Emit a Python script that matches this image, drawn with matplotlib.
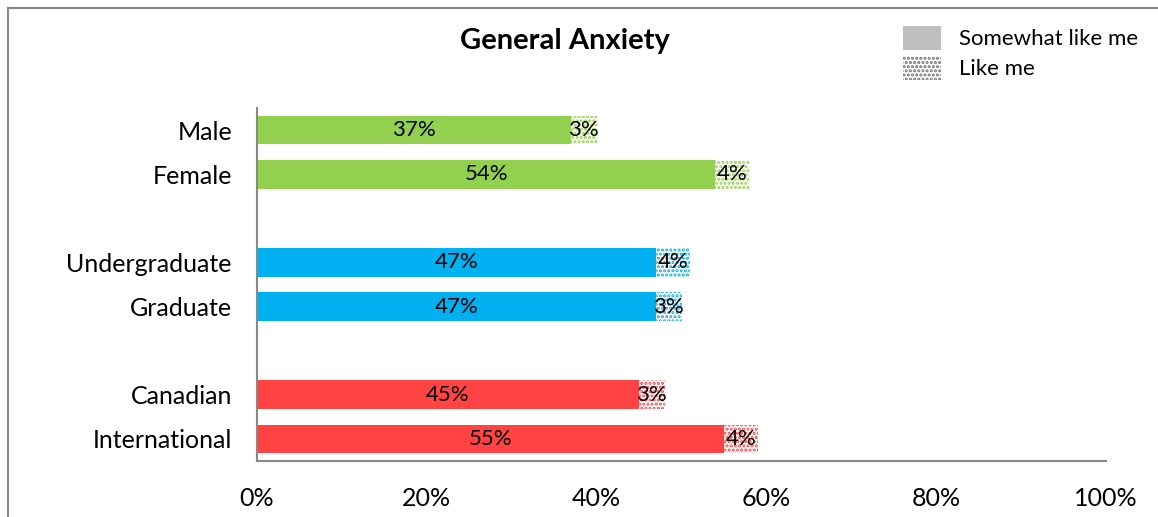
################################################################################
# General Anxiety stacked bar chart
################################################################################
# IMPORTS:
import matplotlib
matplotlib.use("Agg")
import matplotlib.pyplot as plt
from matplotlib.patches import Patch
from matplotlib.lines import Line2D

# Plot defaults:
plt.rcParams['font.family'] = ['Lato', 'DejaVu Sans']
plt.rcParams['hatch.linewidth'] = 1.5

# DATA:
categories = ["Male", "Female", "", "Undergraduate", "Graduate", "", "Canadian", "International"]
somewhatLikeMe = [37, 54, 0, 47, 47, 0, 45, 55]
likeMe = [3, 4, 0, 4, 3, 0, 3, 4]
groupColors = ["#92d050", "#92d050", None, "#00b0f0", "#00b0f0", None, "#ff4343", "#ff4343"]
xTicks = [0, 20, 40, 60, 80, 100]
xTickLabels = ["0%", "20%", "40%", "60%", "80%", "100%"]
legendLabels = ["Somewhat like me", "Like me"]
chartTitle = "General Anxiety"

# Figure:
fig = plt.figure(figsize=(11.58, 5.17), dpi=100)
ax = fig.add_axes([257 / 1158, 1 - 461 / 517, (1106 - 257) / 1158, (461 - 108) / 517])

# Outer chart border (top and left edges only are visible):
borderColor = "#888888"
fig.add_artist(Line2D([8 / 1158, 1.2], [1 - 8 / 517, 1 - 8 / 517], transform=fig.transFigure,
                      color=borderColor, lw=1.5))
fig.add_artist(Line2D([8 / 1158, 8 / 1158], [1 - 8 / 517, -0.2], transform=fig.transFigure,
                      color=borderColor, lw=1.5))

barHeight = 0.65
dotHatch = "...."
for i, name in enumerate(categories):
    if name == "":
        continue
    color = groupColors[i]
    first = somewhatLikeMe[i]
    second = likeMe[i]
    ax.barh(i, first, height=barHeight, color=color, linewidth=0)
    ax.barh(i, second, left=first, height=barHeight, facecolor="white",
            edgecolor=color, hatch=dotHatch, linewidth=0)
    ax.text(first / 2, i, "%d%%" % first, ha="center", va="center", fontsize=16, color="black")
    ax.text(first + second / 2, i, "%d%%" % second, ha="center", va="center", fontsize=16,
            color="black")

# Axes:
ax.set_xlim(0, 100)
ax.set_ylim(len(categories) - 0.5, -0.5)
ax.set_yticks(range(len(categories)))
ax.set_yticklabels(categories, fontsize=18)
ax.set_xticks(xTicks)
ax.set_xticklabels(xTickLabels, fontsize=18)
ax.tick_params(axis="both", length=0)
ax.tick_params(axis="y", pad=18)
ax.tick_params(axis="x", pad=19)
for side in ["top", "right"]:
    ax.spines[side].set_visible(False)
for side in ["left", "bottom"]:
    ax.spines[side].set_color(borderColor)
    ax.spines[side].set_linewidth(1.5)

# Title:
fig.text(565 / 1158, 1 - 41 / 517, chartTitle, ha="center", va="center",
         fontsize=21, fontweight="bold")

# Legend:
handles = [Patch(facecolor="#bfbfbf", edgecolor="none"),
           Patch(facecolor="white", edgecolor="#707070", hatch=dotHatch, linewidth=0)]
fig.legend(handles, legendLabels, loc="upper left", bbox_to_anchor=(883 / 1158, 1 - 6 / 517),
           frameon=False, fontsize=16, handlelength=1.7, handleheight=1.25,
           handletextpad=0.8, labelspacing=0.3)

plt.savefig("out.png", dpi=100)
